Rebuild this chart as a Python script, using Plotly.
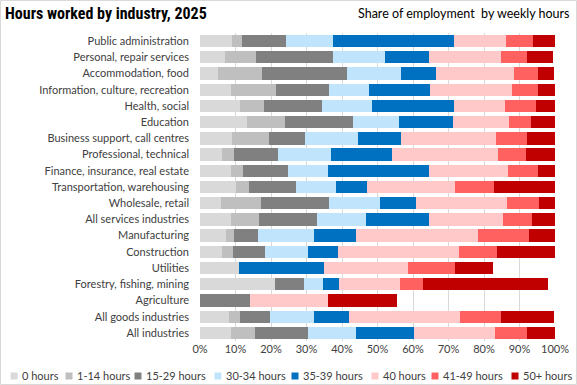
import plotly.graph_objects as go

industries = [
    "Public administration", "Personal, repair services", "Accommodation, food",
    "Information, culture, recreation", "Health, social", "Education",
    "Business support, call centres", "Professional, technical",
    "Finance, insurance, real estate", "Transportation, warehousing",
    "Wholesale, retail", "All services industries", "Manufacturing",
    "Construction", "Utilities", "Forestry, fishing, mining", "Agriculture",
    "All goods industries", "All industries",
]

series_names = ["0 hours", "1-14 hours", "15-29 hours", "30-34 hours",
                "35-39 hours", "40 hours", "41-49 hours", "50+ hours"]

h0 =     [9.1, 6.9, 5.2, 8.8, 11.4, 13.1, 8.9, 6.1, 8.6, 10.0, 5.8, 8.6, 7.2, 6.1, 10.9, 21.0, 0.0, 8.3, 8.6]
h1_14 =  [2.6, 8.8, 12.2, 12.5, 6.5, 10.8, 10.4, 3.6, 3.4, 3.7, 11.3, 7.9, 2.5, 3.1, 0.0, 0.0, 0.0, 3.1, 6.8]
h15_29 = [12.4, 21.7, 24.0, 15.0, 16.4, 19.2, 10.2, 12.2, 12.7, 13.3, 19.2, 16.4, 6.5, 9.0, 0.0, 8.2, 14.0, 8.2, 14.9]
h30_34 = [13.3, 14.7, 15.2, 11.3, 14.1, 12.9, 15.0, 14.9, 11.3, 11.3, 14.4, 13.8, 15.8, 12.2, 0.0, 5.4, 0.0, 12.4, 13.6]
h35_39 = [34.2, 12.4, 9.9, 17.2, 23.2, 15.3, 12.1, 17.3, 28.5, 8.8, 10.2, 17.8, 11.9, 8.4, 24.0, 4.5, 0.0, 9.9, 16.4]
h40 =    [14.6, 20.3, 22.0, 23.2, 14.4, 15.8, 26.8, 29.9, 22.3, 24.8, 25.6, 20.9, 34.4, 34.2, 23.7, 17.2, 22.0, 31.4, 22.9]
h41_49 = [7.7, 7.4, 6.8, 7.3, 8.7, 6.2, 8.8, 7.9, 8.5, 11.0, 9.1, 8.2, 14.4, 10.7, 13.3, 6.5, 0.0, 11.6, 8.8]
h50p =   [6.2, 7.2, 4.5, 4.8, 5.4, 6.8, 7.9, 8.2, 4.8, 17.2, 4.5, 6.5, 7.4, 16.4, 10.7, 35.3, 19.5, 14.9, 8.1]

series_values = [h0, h1_14, h15_29, h30_34, h35_39, h40, h41_49, h50p]
colors = ["#D9D9D9", "#BFBFBF", "#808080", "#C0E4FC",
          "#0070C0", "#FFC9C9", "#FF6161", "#C00000"]

tick_vals = [0, 10, 20, 30, 40, 50, 60, 70, 80, 90, 100]
tick_text = [f"{v}%" for v in tick_vals]

W, H = 577, 385
ml, mr, mt, mb = 200, 22, 33, 44
pw, ph = W - ml - mr, H - mt - mb


def px_x(px):
    return (px - ml) / pw


def px_y(py):
    return 1 - (py - mt) / ph


fig = go.Figure()
for name, vals, col in zip(series_names, series_values, colors):
    fig.add_trace(go.Bar(
        y=industries, x=vals, name=name, orientation="h",
        marker=dict(color=col, line=dict(width=0)),
        hoverinfo="x+y+name", showlegend=False,
    ))

font_main = "Lato, 'Noto Sans', sans-serif"

fig.update_layout(
    width=W, height=H,
    barmode="stack", bargap=0.24,
    paper_bgcolor="white", plot_bgcolor="white",
    margin=dict(l=ml, r=mr, t=mt, b=mb, autoexpand=False),
    font=dict(family=font_main, size=11, color="#404040"),
    xaxis=dict(range=[0, 100], tickvals=tick_vals, ticktext=tick_text,
               showgrid=True, gridcolor="#D9D9D9", gridwidth=1,
               zeroline=False, showline=False, ticks="",
               tickfont=dict(size=11, color="#404040"), fixedrange=True,
               automargin=False),
    yaxis=dict(categoryorder="array", categoryarray=industries,
               autorange="reversed", showgrid=False, showline=False,
               ticks="", ticklabelstandoff=10,
               tickfont=dict(size=11, color="#404040"), fixedrange=True,
               automargin=False),
    showlegend=False,
)

# title + subtitle
fig.add_annotation(text="<b>Hours worked by industry, 2025</b>",
                   xref="paper", yref="paper",
                   x=px_x(3), xanchor="left", y=px_y(14), yanchor="middle",
                   showarrow=False,
                   font=dict(family="'Liberation Sans Narrow', 'Roboto Condensed', Roboto, sans-serif",
                             size=16, color="#000000"))
fig.add_annotation(text="Share of employment  by weekly hours",
                   xref="paper", yref="paper",
                   x=px_x(572), xanchor="right", y=px_y(13), yanchor="middle",
                   showarrow=False,
                   font=dict(family=font_main, size=12.5, color="#000000"))

# legend (series key) drawn as small squares + labels
legend_sq_x = [14, 69, 138, 218, 295, 375, 435, 515]
legend_y = 376
for name, col, sx in zip(series_names, colors, legend_sq_x):
    fig.add_shape(type="rect", xref="paper", yref="paper",
                  x0=px_x(sx - 3.5), x1=px_x(sx + 3.5),
                  y0=px_y(legend_y + 3.5), y1=px_y(legend_y - 3.5),
                  fillcolor=col, line=dict(width=0))
    fig.add_annotation(text=name, xref="paper", yref="paper",
                       x=px_x(sx + 6), xanchor="left",
                       y=px_y(legend_y), yanchor="middle", showarrow=False,
                       font=dict(family=font_main, size=11, color="#404040"))

# outer frame
fig.add_shape(type="rect", xref="paper", yref="paper",
              x0=px_x(0.5), x1=px_x(W - 0.5),
              y0=px_y(H - 0.5), y1=px_y(0.5),
              line=dict(color="#D9D9D9", width=1), layer="below")

fig.write_html("out.html",
               config={"displayModeBar": False},
               post_script="document.body.style.margin='0px';document.body.style.overflow='hidden';")
